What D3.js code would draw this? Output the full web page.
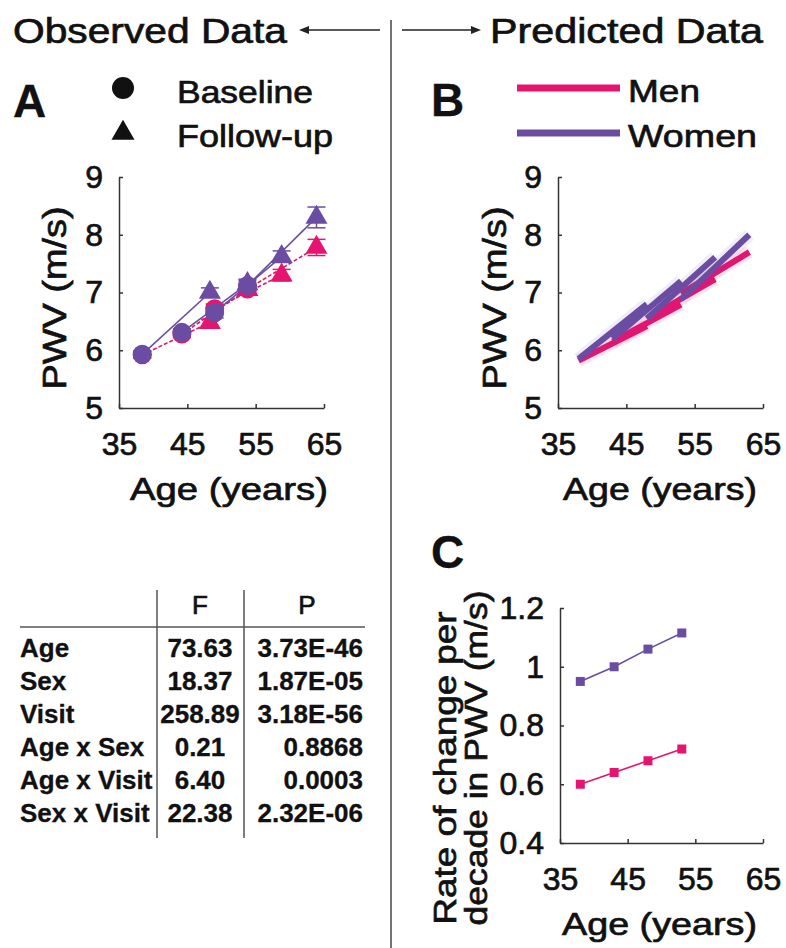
<!DOCTYPE html>
<html>
<head>
<meta charset="utf-8">
<script src="https://cdn.jsdelivr.net/npm/d3@7"></script>
<style>
  body { margin: 0; background: #fff; }
  svg { display: block; font-family: "Liberation Sans", Arial, sans-serif; }
  .axis path, .axis line { stroke: #333; stroke-width: 1.5; }
  .axis text { fill: #111; stroke: #111; stroke-width: 0.7px; font-size: 32px; font-family: "Liberation Sans", Arial, sans-serif; }
  .lbl { fill: #111; stroke: #111; stroke-width: 0.7px; }
</style>
</head>
<body>
<script>
// ---- data ----
const ageTicks = [35, 45, 55, 65];
const pwvTicks = [5, 6, 7, 8, 9];
const rateTicks = [0.4, 0.6, 0.8, 1, 1.2];

// panel A: observed, cohort baseline -> follow-up
const baseAge = [38.4, 44.2, 49.0, 53.8];
const followAge = [48.3, 53.8, 58.8, 63.9];
const menBase = [5.92, 6.28, 6.72, 7.06];
const menBaseSE = [0.06, 0.06, 0.08, 0.08];
const menFollow = [6.48, 7.05, 7.30, 7.78];
const menFollowSE = [0.06, 0.08, 0.10, 0.14];
const womenBase = [5.93, 6.31, 6.65, 7.12];
const womenBaseSE = [0.06, 0.06, 0.09, 0.09];
const womenFollow = [7.00, 7.15, 7.62, 8.30];
const womenFollowSE = [0.08, 0.08, 0.10, 0.18];

// panel B: predicted trajectories per cohort
const predStartAge = [38, 43, 48, 53];
const predEndAge = [48, 53, 58, 63];
const menPredStart = [5.82, 6.15, 6.55, 6.98];
const menPredEnd = [6.42, 6.79, 7.23, 7.70];
const womenPredStart = [5.85, 6.20, 6.55, 6.88];
const womenPredEnd = [6.80, 7.20, 7.61, 8.00];

// panel C: rate of change per decade
const rateAge = [38, 43, 48, 53];
const menRate = [0.60, 0.64, 0.68, 0.72];
const womenRate = [0.95, 1.00, 1.06, 1.115];

// table
const tableTerms = ["Age", "Sex", "Visit", "Age x Sex", "Age x Visit", "Sex x Visit"];
const tableF = ["73.63", "18.37", "258.89", "0.21", "6.40", "22.38"];
const tableP = ["3.73E-46", "1.87E-05", "3.18E-56", "0.8868", "0.0003", "2.32E-06"];

const pink = "#e5156f", purple = "#6a4da3";

const svg = d3.select("body").append("svg").attr("width", 786).attr("height", 948);

function label(x, y, txt, size, len, opts = {}) {
  const t = svg.append("text").attr("class", "lbl")
    .attr("x", x).attr("y", y)
    .attr("font-size", size)
    .attr("font-weight", opts.bold ? "bold" : null)
    .attr("text-anchor", opts.anchor || "start")
    .text(txt);
  if (opts.bold) t.style("stroke-width", "0.3px");
  if (len) t.attr("textLength", len).attr("lengthAdjust", "spacingAndGlyphs");
  if (opts.rotate) t.attr("transform", `rotate(-90,${x},${y})`);
  return t;
}

// divider + header arrows
svg.append("line").attr("x1", 391).attr("x2", 391).attr("y1", 20).attr("y2", 948)
  .attr("stroke", "#444").attr("stroke-width", 1.5);
label(13, 43, "Observed Data", 35, 274);
label(490, 43, "Predicted Data", 35, 273);
svg.append("line").attr("x1", 306).attr("x2", 380).attr("y1", 30).attr("y2", 30).attr("stroke", "#222").attr("stroke-width", 1.5);
svg.append("path").attr("d", "M299,30 L309,26 L309,34 Z").attr("fill", "#222");
svg.append("line").attr("x1", 402).attr("x2", 474).attr("y1", 30).attr("y2", 30).attr("stroke", "#222").attr("stroke-width", 1.5);
svg.append("path").attr("d", "M481,30 L471,26 L471,34 Z").attr("fill", "#222");

// panel letters
label(13, 117, "A", 46, null, { bold: true });
label(431, 116, "B", 46, null, { bold: true });
label(431, 568, "C", 46, null, { bold: true });

// legend A
svg.append("circle").attr("cx", 123).attr("cy", 88).attr("r", 11).attr("fill", "#111");
svg.append("path").attr("d", d3.symbol(d3.symbolTriangle, 230)()).attr("transform", "translate(123,133)").attr("fill", "#111");
label(177, 103, "Baseline", 32, 136);
label(177, 147, "Follow-up", 32, 156);

// legend B
svg.append("line").attr("x1", 517).attr("x2", 620).attr("y1", 88).attr("y2", 88).attr("stroke", pink).attr("stroke-width", 7);
svg.append("line").attr("x1", 517).attr("x2", 620).attr("y1", 133).attr("y2", 133).attr("stroke", purple).attr("stroke-width", 7);
label(628, 102, "Men", 32, 72);
label(628, 147, "Women", 32, 129);

function axes(x, y, yTicks, yFmt) {
  svg.append("g").attr("class", "axis")
    .attr("transform", `translate(0,${y.range()[0]})`)
    .call(d3.axisBottom(x).tickValues(ageTicks).tickSize(-4).tickSizeOuter(0).tickPadding(24));
  svg.append("g").attr("class", "axis")
    .attr("transform", `translate(${x.range()[0]},0)`)
    .call(d3.axisLeft(y).tickValues(yTicks).tickFormat(yFmt).tickSize(-4).tickSizeOuter(0).tickPadding(16));
  svg.selectAll(".axis").attr("font-size", null).attr("font-family", null);
}

// ---- panel A ----
const xA = d3.scaleLinear().domain([35, 65]).range([119, 324]);
const yA = d3.scaleLinear().domain([5, 9]).range([408, 177]);
axes(xA, yA, pwvTicks, d3.format("d"));
label(130, 500, "Age (years)", 32, 198);
label(66, 298, "PWV (m/s)", 33, 183, { rotate: true, anchor: "middle" });

function observed(base, baseSE, follow, followSE, color, dash) {
  const g = svg.append("g");
  baseAge.forEach((a, i) => {
    g.append("line")
      .attr("x1", xA(a)).attr("y1", yA(base[i]))
      .attr("x2", xA(followAge[i])).attr("y2", yA(follow[i]))
      .attr("stroke", color).attr("stroke-width", 1.6).attr("stroke-dasharray", dash);
  });
  const err = (ages, vals, se) => ages.forEach((a, i) => {
    const cx = xA(a), lo = vals[i] - se[i], hi = vals[i] + se[i];
    g.append("line").attr("x1", cx).attr("x2", cx).attr("y1", yA(lo)).attr("y2", yA(hi)).attr("stroke", color).attr("stroke-width", 1.5);
    [lo, hi].forEach(v => g.append("line").attr("x1", cx - 9).attr("x2", cx + 9).attr("y1", yA(v)).attr("y2", yA(v)).attr("stroke", color).attr("stroke-width", 1.5));
  });
  err(baseAge, base, baseSE);
  err(followAge, follow, followSE);
  g.selectAll(".tri").data(followAge).enter().append("path")
    .attr("d", d3.symbol(d3.symbolTriangle, 210)())
    .attr("transform", (d, i) => `translate(${xA(d)},${yA(follow[i])})`)
    .attr("fill", color);
  g.selectAll(".dot").data(baseAge).enter().append("circle")
    .attr("cx", d => xA(d)).attr("cy", (d, i) => yA(base[i]))
    .attr("r", 9.5).attr("fill", color);
}
observed(menBase, menBaseSE, menFollow, menFollowSE, pink, "4,2");
observed(womenBase, womenBaseSE, womenFollow, womenFollowSE, purple, null);

// ---- panel B ----
const xB = d3.scaleLinear().domain([35, 65]).range([558, 763]);
const yB = d3.scaleLinear().domain([5, 9]).range([408, 177]);
axes(xB, yB, pwvTicks, d3.format("d"));
label(563, 500, "Age (years)", 32, 194);
label(506, 298, "PWV (m/s)", 33, 183, { rotate: true, anchor: "middle" });

function predicted(start, end, color) {
  const g = svg.append("g");
  predStartAge.forEach((a, i) => {
    g.append("line")
      .attr("x1", xB(a)).attr("y1", yB(start[i]))
      .attr("x2", xB(predEndAge[i])).attr("y2", yB(end[i]))
      .attr("stroke", color).attr("stroke-width", 13).attr("stroke-opacity", 0.1);
  });
  predStartAge.forEach((a, i) => {
    g.append("line")
      .attr("x1", xB(a)).attr("y1", yB(start[i]))
      .attr("x2", xB(predEndAge[i])).attr("y2", yB(end[i]))
      .attr("stroke", color).attr("stroke-width", 6);
  });
}
predicted(menPredStart, menPredEnd, pink);
predicted(womenPredStart, womenPredEnd, purple);

// ---- panel C ----
const xC = d3.scaleLinear().domain([35, 65]).range([560, 763]);
const yC = d3.scaleLinear().domain([0.4, 1.2]).range([843, 608]);
axes(xC, yC, rateTicks, d => d3.format("")(d));
label(562, 935, "Age (years)", 32, 195);
label(456, 768, "Rate of change per", 32, 313, { rotate: true, anchor: "middle" });
label(487, 758, "decade in PWV (m/s)", 32, 335, { rotate: true, anchor: "middle" });

[[menRate, pink], [womenRate, purple]].forEach(([vals, color]) => {
  const g = svg.append("g");
  g.append("path").datum(vals)
    .attr("d", d3.line().x((d, i) => xC(rateAge[i])).y(d => yC(d)))
    .attr("fill", "none").attr("stroke", color).attr("stroke-width", 1.6);
  g.selectAll("rect").data(vals).enter().append("rect")
    .attr("x", (d, i) => xC(rateAge[i]) - 4.5).attr("y", d => yC(d) - 4.5)
    .attr("width", 9).attr("height", 9).attr("fill", color);
});

// ---- table ----
const rowY = i => 657 + i * 33;
svg.append("line").attr("x1", 20).attr("x2", 365).attr("y1", 627).attr("y2", 627).attr("stroke", "#555").attr("stroke-width", 1.5);
[157, 244].forEach(x => svg.append("line").attr("x1", x).attr("x2", x).attr("y1", 590).attr("y2", 838).attr("stroke", "#555").attr("stroke-width", 1.5));
label(200, 614, "F", 26, null, { anchor: "middle" });
label(307, 614, "P", 26, null, { anchor: "middle" });
tableTerms.forEach((t, i) => {
  label(20, rowY(i), t, 26, null, { bold: true });
  label(200, rowY(i), tableF[i], 26, null, { bold: true, anchor: "middle" });
  label(363, rowY(i), tableP[i], 26, null, { bold: true, anchor: "end" });
});
</script>
</body>
</html>
